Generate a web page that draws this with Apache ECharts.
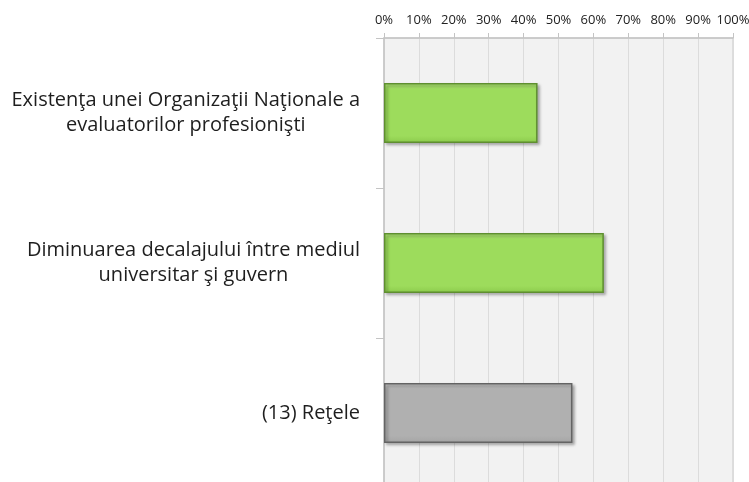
<!DOCTYPE html>
<html>
<head>
<meta charset="utf-8">
<script src="https://cdn.jsdelivr.net/npm/echarts@6/dist/echarts.min.js"></script>
<style>
  html, body { margin: 0; padding: 0; background: #fff; }
  #chart { width: 749px; height: 482px; }
</style>
</head>
<body>
<div id="chart"></div>
<script>
const categories = [
  'Existenţa unei Organizaţii Naţionale a\nevaluatorilor profesionişti',
  'Diminuarea decalajului între mediul\nuniversitar şi guvern',
  '(13) Reţele'
]
const values = [44, 63, 54]
const tickValues = [0, 10, 20, 30, 40, 50, 60, 70, 80, 90, 100]

// green for the two items, grey for the group bar
const BAR_STYLES = [
  { fill: ['#b4ea78', '#9ddc5c', '#8ccb4c'], border: '#5f8f30' },
  { fill: ['#b4ea78', '#9ddc5c', '#8ccb4c'], border: '#5f8f30' },
  { fill: ['#c8c8c8', '#b0b0b0', '#a4a4a4'], border: '#646464' },
]

const chart = echarts.init(document.getElementById('chart'), null, { renderer: 'canvas' })

const seriesData = values.map((v, i) => {
  const s = BAR_STYLES[i]
  return {
    value: v,
    itemStyle: {
      color: new echarts.graphic.LinearGradient(0, 0, 0, 1, [
        { offset: 0, color: s.fill[0] },
        { offset: 0.12, color: s.fill[1] },
        { offset: 0.88, color: s.fill[1] },
        { offset: 1, color: s.fill[2] },
      ]),
      borderColor: s.border,
      borderWidth: 1.5,
      shadowColor: 'rgba(0,0,0,0.35)',
      shadowBlur: 3,
      shadowOffsetX: 2,
      shadowOffsetY: 2,
    },
  }
})

const option = {
  animation: false,
  backgroundColor: '#ffffff',
  textStyle: { fontFamily: 'Open Sans' },
  grid: {
    left: 384, right: 16, top: 38, height: 450,
    outerBoundsMode: 'none',
    show: true, backgroundColor: '#f2f2f2', borderColor: '#c8c8c8', borderWidth: 1,
  },
  xAxis: {
    type: 'value',
    position: 'top',
    min: 0, max: 100, interval: 10,
    axisLine: { show: true, lineStyle: { color: '#c4c4c4', width: 1.5 } },
    axisTick: { show: true, length: 5, lineStyle: { color: '#c4c4c4' } },
    axisLabel: {
      color: '#222', fontSize: 13, margin: 11,
      formatter: v => tickValues.includes(v) ? v + '%' : '',
    },
    splitLine: { show: true, lineStyle: { color: '#dcdcdc' } },
  },
  yAxis: {
    type: 'category',
    data: categories,
    inverse: true,
    axisLine: { show: true, lineStyle: { color: '#c4c4c4', width: 1.5 } },
    axisTick: { show: true, length: 8, lineStyle: { color: '#c4c4c4' } },
    axisLabel: {
      margin: 24,
      align: 'right',
      formatter: v => v.split('\n').map(l => '{c|' + l + '}').join('\n'),
      rich: {
        c: { fontSize: 20, color: '#1e1e1e', align: 'center', lineHeight: 25, fontFamily: 'Open Sans' },
      },
    },
  },
  series: [{
    type: 'bar',
    data: seriesData,
    barWidth: 60,
  }],
}

chart.setOption(option)
</script>
</body>
</html>
